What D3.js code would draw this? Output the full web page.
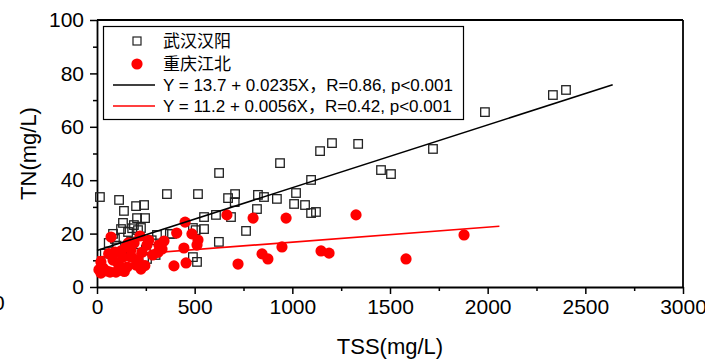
<!DOCTYPE html>
<html>
<head>
<meta charset="utf-8">
<script src="https://cdn.jsdelivr.net/npm/d3@7"></script>
<style>
  body { margin: 0; background: #fff; }
  text { font-family: "Liberation Sans", Arial, "Noto Sans CJK SC", sans-serif; }
</style>
</head>
<body>
<script>
// 武汉汉阳 (open squares): TSS, TN
const wuhanTSS = [15, 113, 138, 200, 241, 205, 246, 133, 123, 189, 159, 210, 82, 256, 241,
  358, 517, 671, 707, 705, 548, 609, 491, 548, 505, 624, 491, 512, 384,
  1203, 1142, 937, 1096, 824, 855, 921, 1019, 819, 1009, 1065, 1096, 1121, 763, 686,
  1337, 1720, 1454, 1505, 1986, 2334, 2401, 625, 307, 373, 92, 60, 175, 220, 280, 130, 250, 40, 300, 180, 100, 225];
const wuhanTN = [33.7, 32.6, 28.5, 30.3, 30.7, 25.8, 25.8, 24.0, 21.7, 23.2, 20.6, 21.3, 19.9, 10.5, 11.2,
  34.8, 34.8, 33.3, 34.8, 31.8, 26.2, 27.0, 22.1, 21.7, 21.3, 16.9, 11.2, 9.4, 19.9,
  53.9, 50.9, 46.4, 40.1, 34.5, 33.7, 33.0, 35.2, 29.2, 31.1, 30.7, 27.7, 28.1, 21.0, 26.2,
  53.6, 51.7, 43.8, 42.3, 65.5, 71.9, 73.8, 42.7, 19.5, 19.9, 18.0, 16.5, 17.0, 16.0, 17.5, 12.0, 14.0, 12.5, 12.0, 22.0, 15.5, 22.1];

// 重庆江北 (filled circles): TSS, TN
const cqTSS = [1326, 1582, 1879, 799, 968, 947, 845, 875, 722, 1147, 1188, 665, 451, 408, 486, 517, 512,
  343, 333, 445, 456, 394, 72, 220, 256, 317, 148, 174, 123, 92, 174, 154, 200, 225, 31, 67, 97, 118,
  20, 20, 82, 210, 312, 133, 245, 50, 110, 160, 285, 60, 190, 140, 265, 230, 10];
const cqTN = [27.0, 10.5, 19.5, 25.8, 25.8, 15.0, 12.4, 10.5, 8.6, 13.5, 12.7, 27.0, 24.3, 20.2, 19.9, 17.6, 15.7,
  17.2, 14.2, 14.6, 9.0, 7.9, 18.7, 19.1, 15.7, 15.7, 15.0, 13.9, 13.5, 13.1, 11.2, 7.5, 8.2, 6.7, 7.1, 5.6, 5.6, 6.3,
  9.4, 5.2, 10.1, 10.1, 13.0, 11.2, 8.0, 6.0, 8.5, 16.5, 12.0, 12.5, 16.5, 5.8, 17.5, 13.0, 6.5];

// fits
const fitWuhan = { a: 13.7, b: 0.0235, xMax: 2640 };
const fitCq = { a: 11.2, b: 0.0056, xMax: 2060 };

const xTicks = [0, 500, 1000, 1500, 2000, 2500, 3000];
const yTicks = [0, 20, 40, 60, 80, 100];

const legendLabels = ["武汉汉阳", "重庆江北",
  "Y = 13.7 + 0.0235X，R=0.86, p<0.001",
  "Y = 11.2 + 0.0056X，R=0.42, p<0.001"];

const W = 705, H = 360;
const svg = d3.select("body").append("svg").attr("width", W).attr("height", H);

const x = d3.scaleLinear().domain([0, 3000]).range([97, 683]);
const y = d3.scaleLinear().domain([0, 100]).range([287, 20]);

// stray label cut at left edge
svg.append("text").attr("x", -7).attr("y", 310).attr("font-size", 21).text("0");

// minor ticks
const minorX = d3.range(250, 3000, 500);
const minorY = d3.range(10, 100, 20);
svg.append("g").attr("transform", `translate(0,${y(0)})`)
  .call(d3.axisBottom(x).tickValues(minorX).tickSize(4).tickSizeOuter(0).tickFormat(""))
  .call(g => g.select(".domain").remove())
  .selectAll("line").attr("stroke-width", 1.5);
svg.append("g").attr("transform", `translate(${x(0)},0)`)
  .call(d3.axisLeft(y).tickValues(minorY).tickSize(4).tickSizeOuter(0).tickFormat(""))
  .call(g => g.select(".domain").remove())
  .selectAll("line").attr("stroke-width", 1.5);

// major axes
const gx = svg.append("g").attr("transform", `translate(0,${y(0)})`)
  .call(d3.axisBottom(x).tickValues(xTicks).tickFormat(d3.format("d"))
    .tickSize(7).tickSizeOuter(0).tickPadding(5));
gx.selectAll("text").attr("font-size", 21).attr("font-family", "Liberation Sans, Arial").attr("fill", "#000");
gx.selectAll("line").attr("stroke-width", 1.5);
gx.select(".domain").attr("stroke-width", 1.8);

const gy = svg.append("g").attr("transform", `translate(${x(0)},0)`)
  .call(d3.axisLeft(y).tickValues(yTicks).tickFormat(d3.format("d"))
    .tickSize(7).tickSizeOuter(0).tickPadding(6));
gy.selectAll("text").attr("font-size", 21).attr("font-family", "Liberation Sans, Arial").attr("fill", "#000");
gy.selectAll("line").attr("stroke-width", 1.5);
gy.select(".domain").attr("stroke-width", 1.8);

// top and right frame
svg.append("line").attr("x1", x(0)).attr("x2", x(3000)).attr("y1", y(100)).attr("y2", y(100))
  .attr("stroke", "#000").attr("stroke-width", 1.8);
svg.append("line").attr("x1", x(3000)).attr("x2", x(3000)).attr("y1", y(100)).attr("y2", y(0))
  .attr("stroke", "#000").attr("stroke-width", 1.8);

// axis titles
svg.append("text").attr("x", (x(0) + x(3000)) / 2).attr("y", 354)
  .attr("text-anchor", "middle").attr("font-size", 22).text("TSS(mg/L)");
svg.append("text").attr("transform", `translate(36,${(y(0) + y(100)) / 2}) rotate(-90)`)
  .attr("text-anchor", "middle").attr("font-size", 22).text("TN(mg/L)");

// squares
const sq = 8.5;
svg.append("g").selectAll("rect")
  .data(d3.zip(wuhanTSS, wuhanTN))
  .join("rect")
  .attr("x", d => x(d[0]) - sq / 2)
  .attr("y", d => y(d[1]) - sq / 2)
  .attr("width", sq).attr("height", sq)
  .attr("fill", "none").attr("stroke", "#222").attr("stroke-width", 1.3);

// circles
svg.append("g").selectAll("circle")
  .data(d3.zip(cqTSS, cqTN))
  .join("circle")
  .attr("cx", d => x(d[0]))
  .attr("cy", d => y(d[1]))
  .attr("r", 5.6)
  .attr("fill", "#ff0000");

// regression lines
[[fitWuhan, "#000"], [fitCq, "#ff0000"]].forEach(([f, c]) => {
  svg.append("line")
    .attr("x1", x(0)).attr("y1", y(f.a))
    .attr("x2", x(f.xMax)).attr("y2", y(f.a + f.b * f.xMax))
    .attr("stroke", c).attr("stroke-width", 1.6);
});

// legend
const lg = svg.append("g");
lg.append("rect").attr("x", 103.5).attr("y", 26.5).attr("width", 360).attr("height", 93)
  .attr("fill", "#fff").attr("stroke", "#000").attr("stroke-width", 1.2);
const rowsY = [41, 64, 85, 106];
lg.append("rect").attr("x", 137 - 4).attr("y", rowsY[0] - 4).attr("width", 8).attr("height", 8)
  .attr("fill", "none").attr("stroke", "#222").attr("stroke-width", 1.2);
lg.append("circle").attr("cx", 137).attr("cy", rowsY[1]).attr("r", 5.6).attr("fill", "#ff0000");
lg.append("line").attr("x1", 113).attr("x2", 155).attr("y1", rowsY[2]).attr("y2", rowsY[2])
  .attr("stroke", "#000").attr("stroke-width", 1.5);
lg.append("line").attr("x1", 113).attr("x2", 155).attr("y1", rowsY[3]).attr("y2", rowsY[3])
  .attr("stroke", "#ff0000").attr("stroke-width", 1.5);
legendLabels.forEach((t, i) => {
  lg.append("text").attr("x", 163).attr("y", rowsY[i] + 6)
    .attr("font-size", 17)
    .attr("font-family", i < 2 ? "Noto Sans CJK SC" : "Liberation Sans, Arial, Noto Sans CJK SC")
    .text(t);
});
</script>
</body>
</html>
